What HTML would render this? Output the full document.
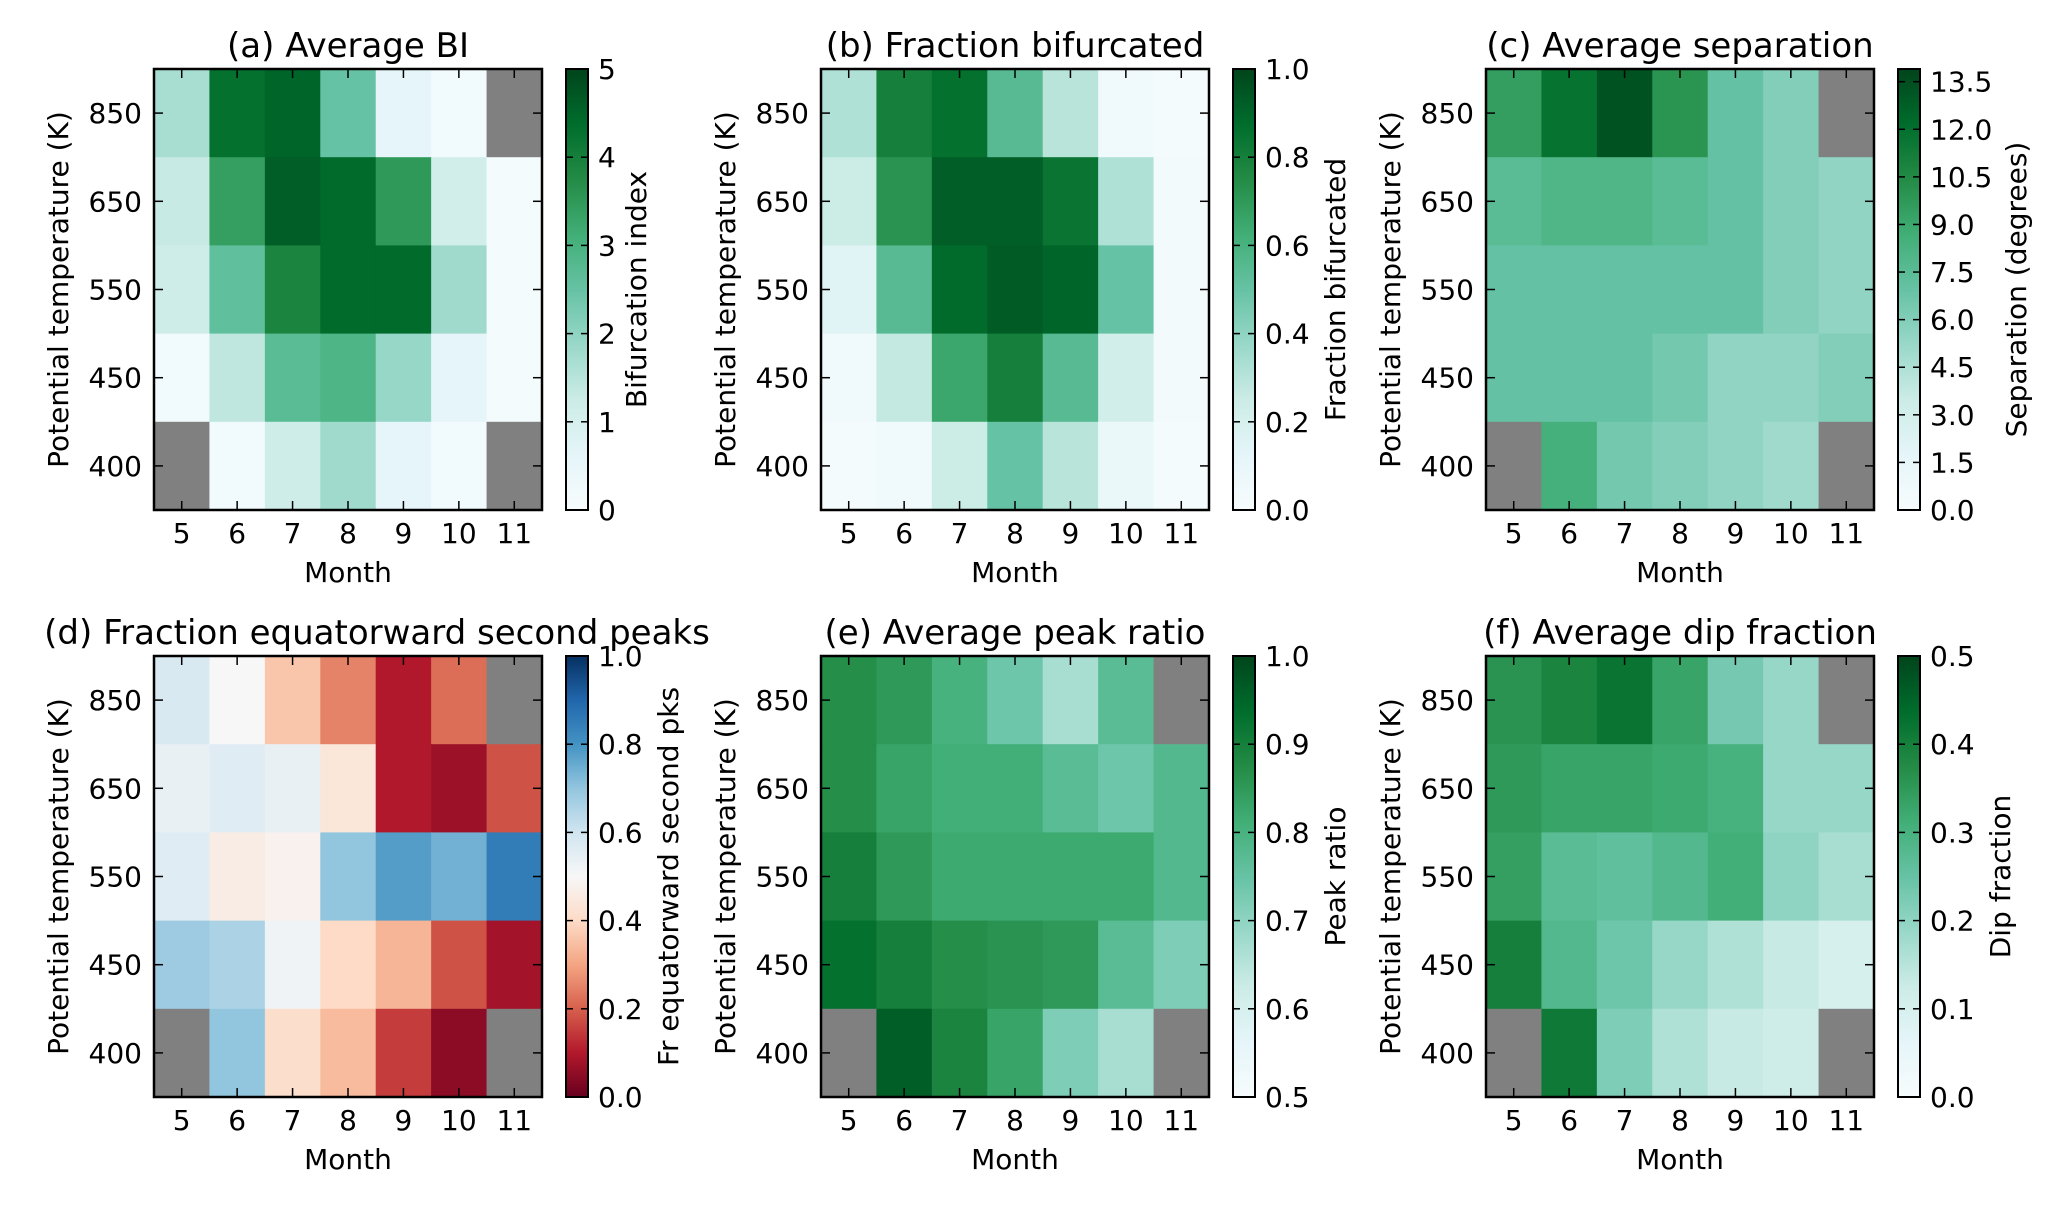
<!DOCTYPE html>
<html><head><meta charset="utf-8">
<style>
html,body{margin:0;padding:0;background:#fff;}
svg{display:block;font-family:"DejaVu Sans","Liberation Sans",sans-serif;}
</style></head>
<body>
<svg id="fig" width="2067" height="1206" viewBox="0 0 2067 1206" xmlns="http://www.w3.org/2000/svg"></svg>
<script>
const months = [5,6,7,8,9,10,11];
const levels = ["850","650","550","450","400"];
const N = null;
const biValues = [
 [1.7,4.3,4.5,2.5,0.6,0.2,N],
 [1.3,3.4,4.6,4.4,3.5,1.1,0.1],
 [1.2,2.6,3.9,4.4,4.4,1.8,0.1],
 [0.2,1.4,2.7,2.9,1.9,0.6,0.1],
 [N,0.2,1.2,1.8,0.6,0.2,N]];
const fracBifValues = [
 [0.32,0.8,0.86,0.55,0.3,0.05,0.02],
 [0.25,0.72,0.92,0.92,0.84,0.32,0.03],
 [0.15,0.55,0.88,0.93,0.9,0.5,0.03],
 [0.05,0.27,0.65,0.8,0.55,0.22,0.03],
 [0.02,0.05,0.25,0.5,0.3,0.08,0.02]];
const sepValues = [
 [9.5,11.8,13.3,10,7,6,N],
 [7.5,8,8,7.5,7,6,5.5],
 [7,7,7,7,7,6,5.5],
 [7,7,7,6.5,5.5,5.5,6],
 [N,8.5,6.5,6,5.5,5,N]];
const eqFracValues = [
 [0.58,0.5,0.36,0.25,0.1,0.22,N],
 [0.54,0.56,0.54,0.44,0.1,0.07,0.18],
 [0.56,0.46,0.48,0.7,0.78,0.74,0.85],
 [0.68,0.66,0.52,0.4,0.33,0.18,0.08],
 [N,0.7,0.41,0.34,0.15,0.05,N]];
const peakRatioValues = [
 [0.87,0.85,0.8,0.74,0.67,0.77,N],
 [0.87,0.83,0.81,0.81,0.77,0.74,0.78],
 [0.9,0.85,0.82,0.82,0.82,0.82,0.78],
 [0.93,0.9,0.87,0.86,0.85,0.77,0.72],
 [N,0.96,0.89,0.83,0.72,0.67,N]];
const dipValues = [
 [0.36,0.39,0.42,0.33,0.23,0.19,N],
 [0.35,0.33,0.33,0.32,0.3,0.19,0.19],
 [0.34,0.27,0.26,0.28,0.31,0.2,0.17],
 [0.4,0.28,0.24,0.19,0.16,0.13,0.1],
 [N,0.41,0.22,0.16,0.13,0.12,N]];
const biTicks = ["0","1","2","3","4","5"];
const fracTicks = ["0.0","0.2","0.4","0.6","0.8","1.0"];
const sepTicks = ["0.0","1.5","3.0","4.5","6.0","7.5","9.0","10.5","12.0","13.5"];
const peakTicks = ["0.5","0.6","0.7","0.8","0.9","1.0"];
const dipTicks = ["0.0","0.1","0.2","0.3","0.4","0.5"];

const BuGn = ["#f7fcfd","#e5f5f9","#ccece6","#99d8c9","#66c2a4","#41ae76","#238b45","#006d2c","#00441b"];
const RdBu = ["#67001f","#b2182b","#d6604d","#f4a582","#fddbc7","#f7f7f7","#d1e5f0","#92c5de","#4393c3","#2166ac","#053061"];

function hex(h){return [parseInt(h.substr(1,2),16),parseInt(h.substr(3,2),16),parseInt(h.substr(5,2),16)];}
function cmap(stops,t){
  t=Math.max(0,Math.min(1,t));
  const p=t*(stops.length-1), i=Math.min(Math.floor(p),stops.length-2), f=p-i;
  const a=hex(stops[i]), b=hex(stops[i+1]);
  return "rgb("+a.map((v,k)=>Math.round(v+(b[k]-v)*f)).join(",")+")";
}

const svg=document.getElementById('fig');
const NS="http://www.w3.org/2000/svg";
function mk(tag,attrs,parent){const e=document.createElementNS(NS,tag);for(const k in attrs)e.setAttribute(k,attrs[k]);(parent||svg).appendChild(e);return e;}
const defs=mk('defs',{});

const PW=388, PH=441;
const panels=[
 {id:"a",title:"(a) Average BI",data:biValues,cm:BuGn,vmin:0,vmax:5,ticks:biTicks,label:"Bifurcation index",x:154,y:69,lab:58,tdx:0},
 {id:"b",title:"(b) Fraction bifurcated",data:fracBifValues,cm:BuGn,vmin:0,vmax:1,ticks:fracTicks,label:"Fraction bifurcated",x:821,y:69,lab:90,tdx:0},
 {id:"c",title:"(c) Average separation",data:sepValues,cm:BuGn,vmin:0,vmax:13.9,ticks:sepTicks,label:"Separation (degrees)",x:1486,y:69,lab:106,tdx:0},
 {id:"d",title:"(d) Fraction equatorward second peaks",data:eqFracValues,cm:RdBu,vmin:0,vmax:1,ticks:fracTicks,label:"Fr equatorward second pks",x:154,y:656,lab:90,tdx:29},
 {id:"e",title:"(e) Average peak ratio",data:peakRatioValues,cm:BuGn,vmin:0.5,vmax:1,ticks:peakTicks,label:"Peak ratio",x:821,y:656,lab:90,tdx:0},
 {id:"f",title:"(f) Average dip fraction",data:dipValues,cm:BuGn,vmin:0,vmax:0.5,ticks:dipTicks,label:"Dip fraction",x:1486,y:656,lab:90,tdx:0}
];

panels.forEach(P=>{
  const g=mk('g',{});
  
  
  const cw=PW/months.length, rh=PH/levels.length;
  const xs=j=>P.x+j*cw, ys=i=>P.y+i*rh;
  P.data.forEach((row,i)=>row.forEach((v,j)=>{
    const r=mk('rect',{x:xs(j),y:ys(i),width:cw+0.6,height:rh+0.6,fill:v===null?"#808080":cmap(P.cm,(v-P.vmin)/(P.vmax-P.vmin))},g);
    
    
  }));
  const fr=mk('rect',{x:P.x,y:P.y,width:PW,height:PH,fill:"none",stroke:"#000","stroke-width":2.5},g);
  
  
  months.forEach((m,j)=>{
    const cx=xs(j)+cw/2;
    mk('line',{x1:cx,x2:cx,y1:P.y+PH,y2:P.y+PH-9,stroke:"#000","stroke-width":1.5},g);
    mk('line',{x1:cx,x2:cx,y1:P.y,y2:P.y+9,stroke:"#000","stroke-width":1.5},g);
    const t=mk('text',{x:cx,y:P.y+PH+33,"text-anchor":"middle","font-size":28},g);
    t.textContent=m;
    
    
  });
  levels.forEach((l,i)=>{
    const cy=ys(i)+rh/2;
    mk('line',{x1:P.x,x2:P.x+9,y1:cy,y2:cy,stroke:"#000","stroke-width":1.5},g);
    mk('line',{x1:P.x+PW,x2:P.x+PW-9,y1:cy,y2:cy,stroke:"#000","stroke-width":1.5},g);
    const t=mk('text',{x:P.x-12,y:cy+10,"text-anchor":"end","font-size":28},g);
    t.textContent=l;
    
    
  });
  const xl=mk('text',{x:P.x+PW/2,y:P.y+PH+72,"text-anchor":"middle","font-size":28},g);
  xl.textContent="Month";
  
  
  const yx=P.x-86, yc=P.y+PH/2;
  const yl=mk('text',{x:yx,y:yc,"text-anchor":"middle","font-size":28,transform:"rotate(-90 "+yx+" "+yc+")"},g);
  yl.textContent="Potential temperature (K)";
  
  
  const ti=mk('text',{x:P.x+PW/2+P.tdx,y:P.y-12,"text-anchor":"middle","font-size":34},g);
  ti.textContent=P.title;
  
  
  const cbx=P.x+PW+24, cbw=22;
  const gr=mk('linearGradient',{id:"grad"+P.id,x1:0,y1:1,x2:0,y2:0},defs);
  P.cm.forEach((c,k)=>mk('stop',{offset:k/(P.cm.length-1),"stop-color":c},gr));
  const cb=mk('rect',{x:cbx,y:P.y,width:cbw,height:PH,fill:"url(#grad"+P.id+")",stroke:"#000","stroke-width":2},g);
  
  
  P.ticks.forEach(s=>{
    const v=parseFloat(s), cy=P.y+PH-(v-P.vmin)/(P.vmax-P.vmin)*PH;
    mk('line',{x1:cbx+cbw,x2:cbx+cbw-7,y1:cy,y2:cy,stroke:"#000","stroke-width":1.5},g);
    mk('line',{x1:cbx,x2:cbx+7,y1:cy,y2:cy,stroke:"#000","stroke-width":1.5},g);
    const t=mk('text',{x:cbx+cbw+10,y:cy+10,"font-size":28},g);
    t.textContent=s;
    
    
  });
  const lx=cbx+cbw+P.lab;
  const cl=mk('text',{x:lx,y:yc,"text-anchor":"middle","font-size":28,transform:"rotate(-90 "+lx+" "+yc+")"},g);
  cl.textContent=P.label;
  
  
});
</script>
</body></html>
